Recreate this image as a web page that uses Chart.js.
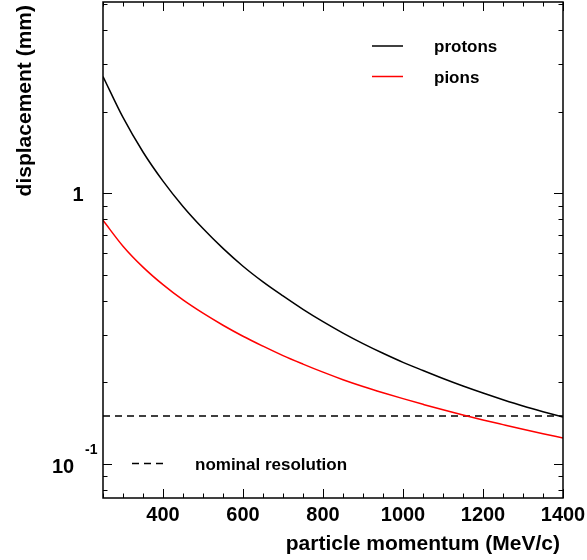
<!DOCTYPE html>
<html>
<head>
<meta charset="utf-8">
<script src="https://cdn.jsdelivr.net/npm/chart.js@4/dist/chart.umd.min.js"></script>
<style>
  html, body { margin: 0; padding: 0; background: #fff; }
  #wrap { width: 587px; height: 560px; position: relative; }
</style>
</head>
<body>
<div id="wrap"><canvas id="chart"></canvas></div>
<script>
// momentum grid (MeV/c) and displacement (mm)
const momentum = [250, 300, 350, 400, 450, 500, 550, 600, 650, 700, 750, 800,
  850, 900, 950, 1000, 1050, 1100, 1150, 1200, 1250, 1300, 1350, 1400]
const protons = [2.70, 1.905, 1.42, 1.108, 0.893, 0.740, 0.625, 0.537, 0.470, 0.417, 0.372, 0.335,
  0.304, 0.278, 0.256, 0.237, 0.221, 0.2065, 0.1937, 0.1825, 0.1725, 0.1635, 0.1557, 0.1487]
const pions = [0.794, 0.637, 0.533, 0.459, 0.403, 0.360, 0.325, 0.296, 0.272, 0.251, 0.2335, 0.218,
  0.2045, 0.193, 0.183, 0.174, 0.1658, 0.1582, 0.1514, 0.1452, 0.1395, 0.1341, 0.1291, 0.1245]
const nominalResolution = 0.15

const xMajorTicks = [400, 600, 800, 1000, 1200, 1400]
const xMinorTicks = [250, 300, 350, 450, 500, 550, 650, 700, 750, 850, 900, 950,
  1050, 1100, 1150, 1250, 1300, 1350]
const yMajorTicks = [0.1, 1]
const yMinorTicks = [0.08, 0.09, 0.2, 0.3, 0.4, 0.5, 0.6, 0.7, 0.8, 0.9, 2, 3, 4, 5]

const FONT = '"Liberation Sans", Arial, Helvetica, sans-serif'

const rootAxes = {
  id: 'rootAxes',
  afterDatasetsDraw(chart) {
    const { ctx, chartArea: a, scales: { x, y } } = chart
    ctx.save()
    ctx.strokeStyle = '#000'
    ctx.fillStyle = '#000'

    // frame
    ctx.lineWidth = 1.5
    ctx.strokeRect(a.left, a.top, a.right - a.left, a.bottom - a.top)

    // ticks on all four sides, pointing inward
    ctx.lineWidth = 1
    const xTick = (v, len) => {
      const px = Math.round(x.getPixelForValue(v)) + 0.5
      ctx.beginPath()
      ctx.moveTo(px, a.bottom); ctx.lineTo(px, a.bottom - len)
      ctx.moveTo(px, a.top); ctx.lineTo(px, a.top + len)
      ctx.stroke()
    }
    const yTick = (v, len) => {
      const py = Math.round(y.getPixelForValue(v)) + 0.5
      ctx.beginPath()
      ctx.moveTo(a.left, py); ctx.lineTo(a.left + len, py)
      ctx.moveTo(a.right, py); ctx.lineTo(a.right - len, py)
      ctx.stroke()
    }
    xMajorTicks.forEach(v => xTick(v, 9))
    xMinorTicks.forEach(v => xTick(v, 4.5))
    yMajorTicks.forEach(v => yTick(v, 9))
    yMinorTicks.forEach(v => yTick(v, 4.5))

    // x tick labels
    ctx.font = 'bold 20px ' + FONT
    ctx.textAlign = 'center'
    ctx.textBaseline = 'alphabetic'
    xMajorTicks.forEach(v => ctx.fillText(String(v), x.getPixelForValue(v), 521))

    // y tick labels
    const y1 = y.getPixelForValue(1)
    ctx.fillText('1', 78, y1 + 8)
    const y01 = y.getPixelForValue(0.1)
    ctx.textAlign = 'left'
    ctx.fillText('10', 52, y01 + 9)
    ctx.font = 'bold 14px ' + FONT
    ctx.fillText('-1', 85, y01 - 10)

    // axis titles
    ctx.font = 'bold 21px ' + FONT
    ctx.textAlign = 'right'
    ctx.fillText('particle momentum (MeV/c)', a.right - 3, 550)
    ctx.save()
    ctx.translate(31, a.top + 3)
    ctx.rotate(-Math.PI / 2)
    ctx.fillText('displacement (mm)', 0, 0)
    ctx.restore()

    // legend
    ctx.font = 'bold 17px ' + FONT
    ctx.textAlign = 'left'
    const entry = (color, dash, x0, x1, ly, tx, label) => {
      ctx.strokeStyle = color
      ctx.lineWidth = 1.5
      ctx.setLineDash(dash)
      ctx.beginPath(); ctx.moveTo(x0, ly); ctx.lineTo(x1, ly); ctx.stroke()
      ctx.setLineDash([])
      ctx.fillText(label, tx, ly + 6)
    }
    entry('#000', [], 372, 403, 46, 434, 'protons')
    entry('#ff0000', [], 372, 403, 76.5, 434, 'pions')
    entry('#000', [7, 5], 132, 163, 463.5, 195, 'nominal resolution')

    ctx.restore()
  }
}

const lineData = vals => momentum.map((p, i) => ({ x: p, y: vals[i] }))

new Chart(document.getElementById('chart'), {
  type: 'line',
  data: {
    datasets: [
      { label: 'protons', data: lineData(protons), borderColor: '#000', borderWidth: 1.5,
        pointRadius: 0, cubicInterpolationMode: 'monotone', fill: false },
      { label: 'pions', data: lineData(pions), borderColor: '#ff0000', borderWidth: 1.5,
        pointRadius: 0, cubicInterpolationMode: 'monotone', fill: false },
      { label: 'nominal resolution',
        data: [{ x: momentum[0], y: nominalResolution }, { x: momentum[momentum.length - 1], y: nominalResolution }],
        borderColor: '#000', borderWidth: 1.5, borderDash: [7, 5], pointRadius: 0, fill: false },
    ]
  },
  options: {
    responsive: true,
    maintainAspectRatio: false,
    animation: false,
    layout: { padding: { left: 103, right: 24, top: 2, bottom: 62 } },
    plugins: { legend: { display: false }, tooltip: { enabled: false } },
    scales: {
      x: { type: 'linear', min: 250, max: 1400, display: false },
      y: { type: 'logarithmic', min: 0.0747, max: 5.09, display: false },
    },
  },
  plugins: [rootAxes],
})
</script>
</body>
</html>
